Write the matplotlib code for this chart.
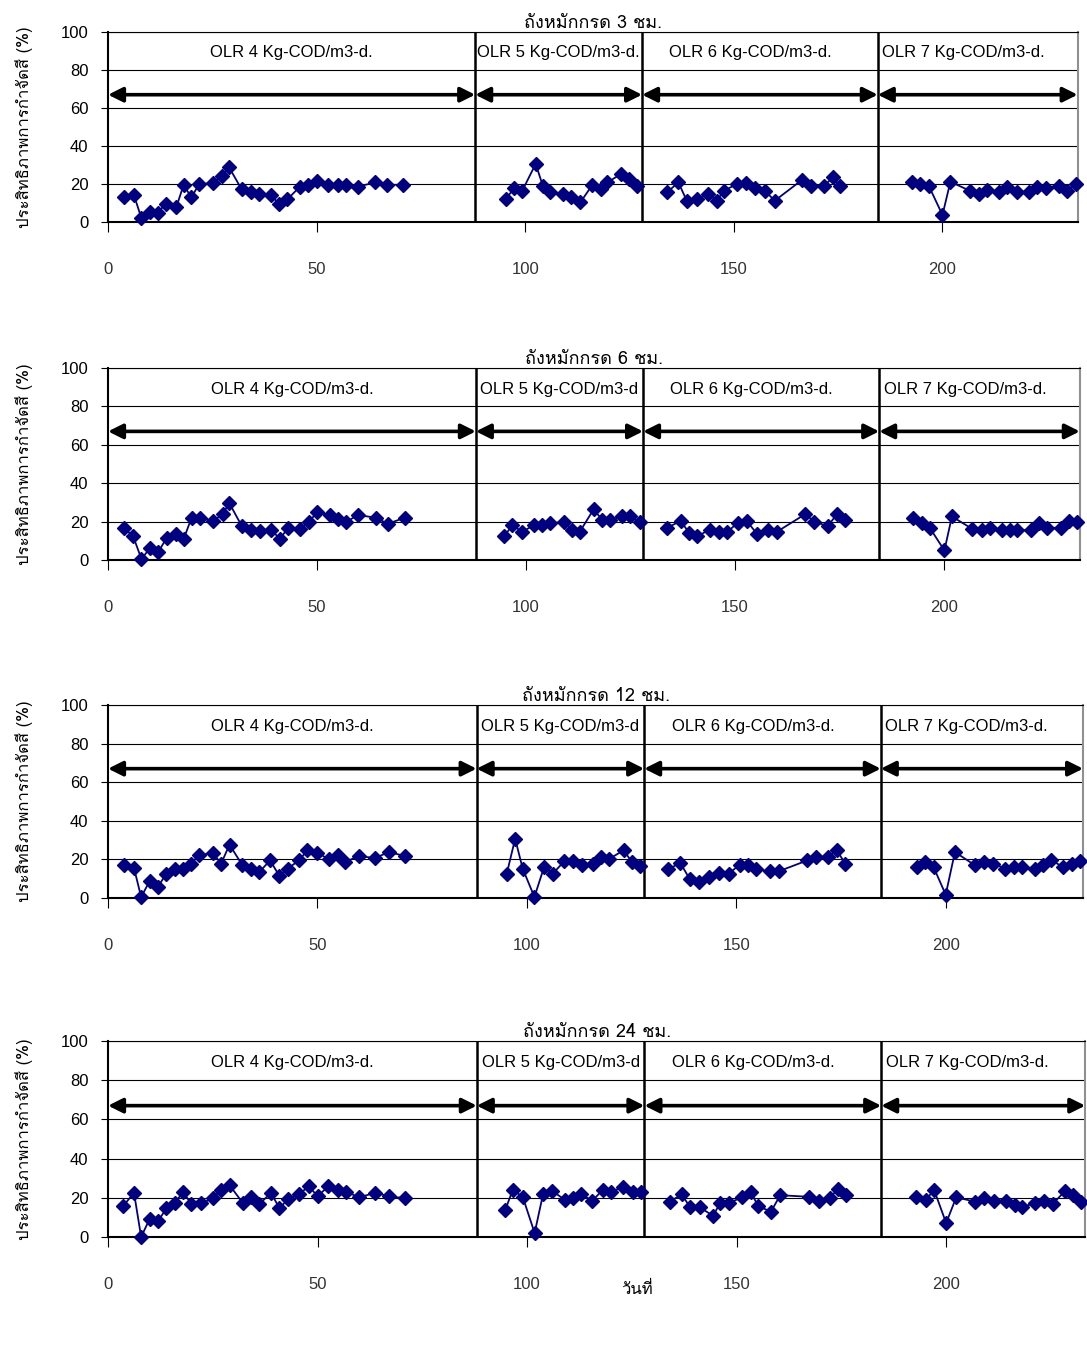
import numpy as np
import matplotlib.pyplot as plt
from matplotlib import font_manager
from matplotlib.ft2font import FT2Font

nan = np.nan

# days and colour removal (%) for each acid tank, OLR periods split by nan
day_3h = [3.75, 6.2, 8, 10, 12, 13.8, 16.4, 18.1, 20, 21.8, 25.2, 27.2, 29, 32, 34.3, 36.2, 39, 41, 43, 46, 48, 50,
          52.7, 55.1, 57.1, 59.9, 64.1, 66.9, 70.7, nan,
          95.3, 97.3, 99.2, 102.5, 104.2, 106, 109, 111, 113.2, 116.1, 118.1, 119.7, 123, 124.8, 126.8, nan,
          134, 136.7, 138.7, 141.1, 143.9, 145.9, 147.6, 150.8, 152.9, 155, 157.4, 159.8, 166.3, 168.5, 171.7, 173.7, 175.4, nan,
          192.7, 194.7, 196.7, 200, 201.9, 206.5, 208.7, 210.7, 213.5, 215.5, 217.9, 220.7, 222.7, 224.7, 227.9, 229.9, 231.9]
eff_3h = [13.3, 14.2, 2, 5.3, 5, 9.7, 8, 19.5, 12.9, 20, 20.4, 24.4, 28.8, 17.3, 15.6, 14.7, 14.3, 9.4, 12, 18.6, 19.5, 21.8,
          19.6, 19.6, 19.6, 18.6, 20.9, 19.6, 19.6, nan,
          12, 17.7, 16.1, 30.6, 19.1, 15.6, 14.7, 13.3, 10.3, 19.6, 17.3, 20.9, 25.3, 22.7, 19.1, nan,
          15.6, 20.9, 11.2, 12, 14.7, 11.2, 16.5, 20, 20.4, 17.7, 16.5, 11.2, 22.1, 19.1, 19.1, 23.5, 19.1, nan,
          20.9, 20, 19.1, 3.7, 21.2, 16.5, 14.7, 16.8, 15.6, 18.6, 15.6, 15.6, 18.2, 17.9, 19.1, 16.5, 20]

day_6h = [3.75, 6, 8, 10, 12, 14, 16.2, 18.1, 20, 22, 25.2, 27.4, 29, 32, 34.3, 36.3, 39, 41.1, 43.1, 46, 48, 50,
          53.1, 55.1, 57, 59.7, 64.1, 66.9, 71.1, nan,
          94.8, 96.7, 99.1, 101.8, 103.8, 105.8, 109, 111, 112.8, 116.2, 118.2, 120.2, 123, 124.8, 127.2, nan,
          133.8, 137, 139, 141, 144, 146.2, 148.2, 150.7, 152.8, 155.2, 157.9, 160, 166.8, 169, 172.2, 174.4, 176.2, nan,
          192.7, 194.7, 196.6, 200.1, 201.9, 206.7, 209.1, 211, 213.9, 215.8, 217.5, 220.7, 222.7, 224.7, 227.9, 229.9, 231.9]
eff_6h = [16.8, 12.4, 0.5, 6.2, 4.1, 11.5, 13.8, 11, 22.1, 22.1, 20.4, 23.9, 29.7, 17.7, 15.6, 15, 15.9, 11, 16.8, 16.3, 19.8, 24.8,
          23.5, 21.2, 19.8, 23.4, 22.1, 18.9, 22.1, nan,
          12.4, 18.1, 14.7, 18.1, 18.1, 19.1, 19.8, 15.9, 14.5, 26.5, 20.9, 20.9, 22.7, 22.7, 19.8, nan,
          16.8, 20.4, 14.2, 12.4, 15.9, 14.7, 14.7, 19.5, 20.4, 13.8, 15.9, 14.7, 23.9, 20, 17.7, 23.9, 20.9, nan,
          22.1, 19.5, 16.8, 5, 22.7, 16.3, 15.9, 16.8, 15.6, 15.6, 15.6, 15.6, 19.5, 16.8, 16.8, 20.4, 19.8]

day_12h = [3.7, 6.2, 7.9, 9.9, 11.9, 13.9, 15.9, 17.9, 19.8, 21.7, 25, 27, 29, 32.1, 34.1, 36.1, 38.7, 40.9, 42.9, 45.6, 47.6, 50,
           52.8, 54.8, 56.6, 59.8, 63.7, 67.1, 70.9, nan,
           95.2, 97.2, 99, 101.8, 104.1, 106.2, 108.9, 111, 113.1, 115.9, 117.7, 119.7, 123.1, 125.1, 126.9, nan,
           133.8, 136.6, 138.9, 141, 143.6, 145.8, 148.2, 150.8, 152.9, 154.8, 158.1, 160.1, 167, 169.1, 171.8, 174, 176, nan,
           193.1, 195.1, 197.1, 200, 202.2, 207, 209.2, 211.4, 214.2, 216.2, 218.2, 221.2, 223.3, 225.2, 228.1, 230.1, 232.1]
eff_12h = [16.9, 15.5, 0.5, 8.6, 5.7, 12.6, 15.2, 14.8, 17.8, 22.1, 23.4, 17.8, 27.6, 16.9, 15.2, 13.4, 19.5, 11.4, 15.2, 19.5, 24.7, 23.4,
           20, 22.4, 18.6, 21.7, 20.7, 23.8, 21.7, nan,
           12.6, 30.7, 15.2, 0.5, 16, 12.6, 19, 19, 16.9, 17.8, 21.2, 20.3, 24.7, 18.6, 16.6, nan,
           14.8, 18.3, 9.7, 8.3, 10.9, 13.1, 12.6, 17.2, 17.2, 14.8, 13.8, 13.8, 19.5, 21.2, 21.2, 24.7, 17.8, nan,
           16, 18.6, 16, 1.7, 23.8, 16.9, 18.6, 17.8, 15.2, 16, 16, 15.2, 17.2, 19.5, 16, 17.8, 19]

day_24h = [3.6, 6.2, 7.9, 9.9, 11.9, 13.9, 15.9, 18, 19.8, 22.2, 25, 27, 29, 32.1, 34.1, 36.1, 38.9, 40.9, 42.9, 45.6, 47.9, 50,
           52.6, 54.8, 56.9, 59.9, 63.7, 67.1, 70.9, nan,
           94.8, 96.6, 99, 101.8, 103.8, 106, 109.1, 111, 112.8, 115.6, 118.1, 120.1, 122.9, 125.3, 127.3, nan,
           134.1, 136.9, 138.9, 141.2, 144.4, 146.1, 148.2, 151.4, 153.4, 155.1, 158.2, 160.4, 167.2, 169.6, 172.2, 174.2, 176.2, nan,
           192.8, 195.2, 197.1, 200, 202.4, 207, 209, 211.4, 214.2, 216.4, 218.2, 221.2, 223.4, 225.4, 228.4, 230.3, 232.3]
eff_24h = [15.8, 22.5, 0, 9.1, 7.9, 14.6, 17.5, 23, 16.8, 17.1, 19.7, 24.2, 26.4, 17.5, 20.5, 16.8, 22.5, 14.6, 19.2, 21.8, 25.9, 20.8,
           25.9, 24.2, 23, 20.2, 22.5, 20.8, 19.7, nan,
           13.8, 24.2, 20.2, 2, 21.8, 23.5, 18.8, 19.7, 21.8, 18.5, 24.2, 23, 25.5, 23, 23, nan,
           18, 21.8, 15.1, 15.1, 10.8, 17.5, 17.5, 20.2, 23, 15.8, 12.9, 21.3, 20.5, 18.5, 19.7, 24.7, 21.3, nan,
           20.2, 18.8, 24.2, 7.1, 20.2, 18, 19.7, 18.5, 18.5, 16.3, 15.1, 17.5, 18.5, 16.8, 23.5, 21.3, 18]

titles = ['ถังหมักกรด 3 ชม.', 'ถังหมักกรด 6 ชม.', 'ถังหมักกรด 12 ชม.', 'ถังหมักกรด 24 ชม.']
olr_labels = ['OLR 4 Kg-COD/m3-d.', 'OLR 5 Kg-COD/m3-d', 'OLR 6 Kg-COD/m3-d.', 'OLR 7 Kg-COD/m3-d.']
olr_change = [88, 128, 184.5]
label_x = [44, 108, 154, 205]
ylabel = 'ประสิทธิภาพการกำจัดสี (%)'

# find a font that has Thai glyphs
thai_font = 'DejaVu Sans'
for f in font_manager.fontManager.ttflist:
    try:
        if FT2Font(f.fname).get_char_index(ord('ถ')):
            thai_font = f.name
            break
    except Exception:
        pass
fam = [thai_font, 'Liberation Sans', 'DejaVu Sans']
plt.rcParams['font.family'] = ['Liberation Sans', 'DejaVu Sans']

fig = plt.figure(figsize=(10.87, 13.62), dpi=100)
# left, bottom, width, height and x range of each panel
rows = [(0.837, 0.1395), (0.5888, 0.141), (0.3407, 0.1417), (0.0918, 0.1439)]
widths = [0.892, 0.894, 0.897, 0.899]
xmaxes = [232.4, 232.5, 232.8, 233.2]
series = [(day_3h, eff_3h), (day_6h, eff_6h), (day_12h, eff_12h), (day_24h, eff_24h)]

for i in range(4):
    ax = fig.add_axes([0.0994, rows[i][0], widths[i], rows[i][1]])
    xmax = xmaxes[i]
    ax.set_xlim(0, xmax)
    ax.set_ylim(0, 100)
    ax.set_yticks(range(0, 101, 20))
    ax.set_xticks([0, 50, 100, 150, 200])
    for g in range(20, 101, 20):
        ax.axhline(g, color='black', lw=0.8, zorder=1)
    for b in olr_change:
        ax.axvline(b, color='black', lw=1.8, zorder=2)
    ax.plot(series[i][0], series[i][1], color='#000080', lw=1.3, marker='D', markersize=7,
            zorder=4, clip_on=False)

    bounds = [0] + olr_change + [xmax]
    for k in range(4):
        ax.annotate('', xy=(bounds[k + 1], 67), xytext=(bounds[k], 67),
                    arrowprops=dict(arrowstyle='<|-|>', lw=2.6, color='black', mutation_scale=22,
                                    shrinkA=0, shrinkB=0), zorder=3)
        txt = olr_labels[k]
        if i == 0 and k == 1:
            txt = txt + '.'
        ax.text(label_x[k], 89, txt, ha='center', va='center', fontsize=12)

    ax.set_title(titles[i], fontsize=13, family=fam, pad=1)
    ax.set_ylabel(ylabel, fontsize=12, family=fam, labelpad=20)
    ax.tick_params(axis='x', direction='out', length=7, pad=22, labelsize=12, colors='black')
    ax.tick_params(axis='y', direction='out', length=5, pad=9, labelsize=12)
    ax.tick_params(axis='x', labelcolor='#333333')
    for s in ['left', 'bottom', 'top']:
        ax.spines[s].set_color('black')
    ax.spines['left'].set_linewidth(1.5)
    ax.spines['bottom'].set_linewidth(1.5)
    ax.spines['right'].set_color('#909090')
    ax.spines['right'].set_linewidth(1.5)

fig.text(637 / 1087, 1 - 1290 / 1362, 'วันที่', ha='center', va='center', fontsize=12, family=fam)

fig.savefig('out.png', dpi=100)
